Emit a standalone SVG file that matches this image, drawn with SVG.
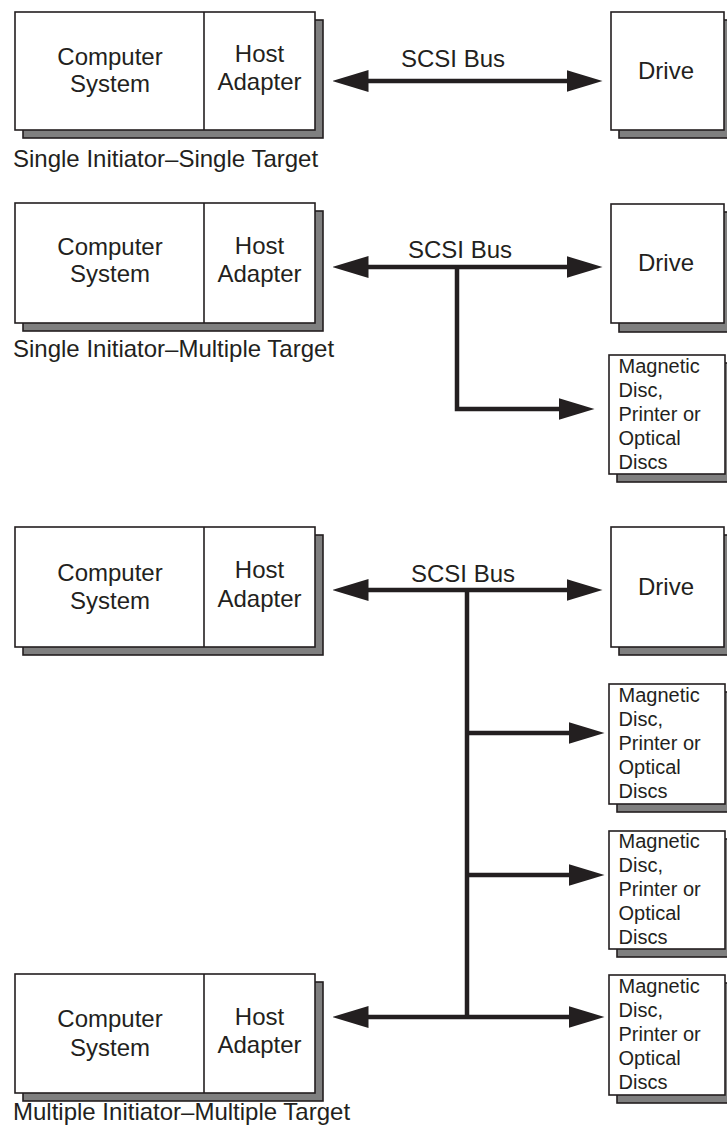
<svg xmlns="http://www.w3.org/2000/svg" width="727" height="1136" viewBox="0 0 727 1136">
<style>
text{font-family:"Liberation Sans",Arial,Helvetica,sans-serif;fill:#231f20}
.big{font-size:24px}
.lbl{font-size:24px}
.sm{font-size:20px}
.mid{text-anchor:middle}
.box{fill:#fff;stroke:#231f20;stroke-width:1.6}
.shd{fill:#7f7f7f;stroke:#231f20;stroke-width:1.6}
.div{stroke:#231f20;stroke-width:1.6}
.bus{fill:none;stroke:#231f20;stroke-width:4.5;stroke-linejoin:miter}
</style>
<defs>
<marker id="ah" viewBox="0 0 36 22" markerUnits="userSpaceOnUse" markerWidth="36" markerHeight="22" refX="0.5" refY="11" orient="auto-start-reverse">
<path d="M0,0 L36,11 L0,22 Z" fill="#231f20"/>
</marker>
</defs>

<g id="connectors">
<path class="bus" d="M368,81 H567" marker-start="url(#ah)" marker-end="url(#ah)"/>
<path class="bus" d="M368,267 H567" marker-start="url(#ah)" marker-end="url(#ah)"/>
<path class="bus" d="M457,267 V409 H559" marker-end="url(#ah)"/>
<path class="bus" d="M368,590 H567" marker-start="url(#ah)" marker-end="url(#ah)"/>
<path class="bus" d="M467,590 V1019"/>
<path class="bus" d="M467,733 H569" marker-end="url(#ah)"/>
<path class="bus" d="M467,875 H569" marker-end="url(#ah)"/>
<path class="bus" d="M368,1017 H569" marker-start="url(#ah)" marker-end="url(#ah)"/>
</g>

<g id="bus-labels">
<text class="big mid" x="453" y="67">SCSI Bus</text>
<text class="big mid" x="460" y="258">SCSI Bus</text>
<text class="big mid" x="463" y="582">SCSI Bus</text>
</g>

<g id="host1">
<rect class="shd" x="23" y="20" width="300" height="118"/>
<rect class="box" x="15" y="12" width="300" height="118"/>
<line class="div" x1="204" y1="12" x2="204" y2="130"/>
<text class="big mid" x="110" y="65">Computer</text>
<text class="big mid" x="110" y="92">System</text>
<text class="big mid" x="259.5" y="62">Host</text>
<text class="big mid" x="259.5" y="90">Adapter</text>
</g>
<text id="label1" class="lbl" x="13" y="167">Single Initiator–Single Target</text>
<g id="drive1">
<rect class="shd" x="619" y="20" width="113" height="118"/>
<rect class="box" x="611" y="12" width="113" height="118"/>
<text class="big mid" x="666" y="79">Drive</text>
</g>

<g id="host2">
<rect class="shd" x="23" y="211" width="300" height="120"/>
<rect class="box" x="15" y="203" width="300" height="120"/>
<line class="div" x1="204" y1="203" x2="204" y2="323"/>
<text class="big mid" x="110" y="255">Computer</text>
<text class="big mid" x="110" y="282">System</text>
<text class="big mid" x="259.5" y="254">Host</text>
<text class="big mid" x="259.5" y="282">Adapter</text>
</g>
<text id="label2" class="lbl" x="13" y="357">Single Initiator–Multiple Target</text>
<g id="drive2">
<rect class="shd" x="619" y="212" width="113" height="120"/>
<rect class="box" x="611" y="204" width="113" height="119"/>
<text class="big mid" x="666" y="271">Drive</text>
</g>
<g id="periph2">
<rect class="shd" x="617" y="363" width="116" height="119"/>
<rect class="box" x="609" y="355" width="116" height="119"/>
<text class="sm" x="618.5" y="373">Magnetic</text>
<text class="sm" x="618.5" y="397">Disc,</text>
<text class="sm" x="618.5" y="421">Printer or</text>
<text class="sm" x="618.5" y="445">Optical</text>
<text class="sm" x="618.5" y="469">Discs</text>
</g>

<g id="host3">
<rect class="shd" x="23" y="535" width="300" height="120"/>
<rect class="box" x="15" y="527" width="300" height="120"/>
<line class="div" x1="204" y1="527" x2="204" y2="647"/>
<text class="big mid" x="110" y="581">Computer</text>
<text class="big mid" x="110" y="609">System</text>
<text class="big mid" x="259.5" y="578">Host</text>
<text class="big mid" x="259.5" y="607">Adapter</text>
</g>
<g id="drive3">
<rect class="shd" x="619" y="535" width="113" height="120"/>
<rect class="box" x="611" y="527" width="113" height="120"/>
<text class="big mid" x="666" y="595">Drive</text>
</g>
<g id="periph3a">
<rect class="shd" x="617" y="692" width="116" height="120"/>
<rect class="box" x="609" y="684" width="116" height="120"/>
<text class="sm" x="618.5" y="702">Magnetic</text>
<text class="sm" x="618.5" y="726">Disc,</text>
<text class="sm" x="618.5" y="750">Printer or</text>
<text class="sm" x="618.5" y="774">Optical</text>
<text class="sm" x="618.5" y="798">Discs</text>
</g>
<g id="periph3b">
<rect class="shd" x="617" y="839" width="116" height="118"/>
<rect class="box" x="609" y="831" width="116" height="118"/>
<text class="sm" x="618.5" y="848">Magnetic</text>
<text class="sm" x="618.5" y="872">Disc,</text>
<text class="sm" x="618.5" y="896">Printer or</text>
<text class="sm" x="618.5" y="920">Optical</text>
<text class="sm" x="618.5" y="944">Discs</text>
</g>
<g id="periph3c">
<rect class="shd" x="617" y="983" width="116" height="120"/>
<rect class="box" x="609" y="975" width="116" height="120"/>
<text class="sm" x="618.5" y="993">Magnetic</text>
<text class="sm" x="618.5" y="1017">Disc,</text>
<text class="sm" x="618.5" y="1041">Printer or</text>
<text class="sm" x="618.5" y="1065">Optical</text>
<text class="sm" x="618.5" y="1089">Discs</text>
</g>

<g id="host4">
<rect class="shd" x="23" y="982" width="300" height="119"/>
<rect class="box" x="15" y="974" width="300" height="119"/>
<line class="div" x1="204" y1="974" x2="204" y2="1093"/>
<text class="big mid" x="110" y="1027">Computer</text>
<text class="big mid" x="110" y="1056">System</text>
<text class="big mid" x="259.5" y="1025">Host</text>
<text class="big mid" x="259.5" y="1053">Adapter</text>
</g>
<text id="label3" class="lbl" x="13" y="1120">Multiple Initiator–Multiple Target</text>
</svg>
